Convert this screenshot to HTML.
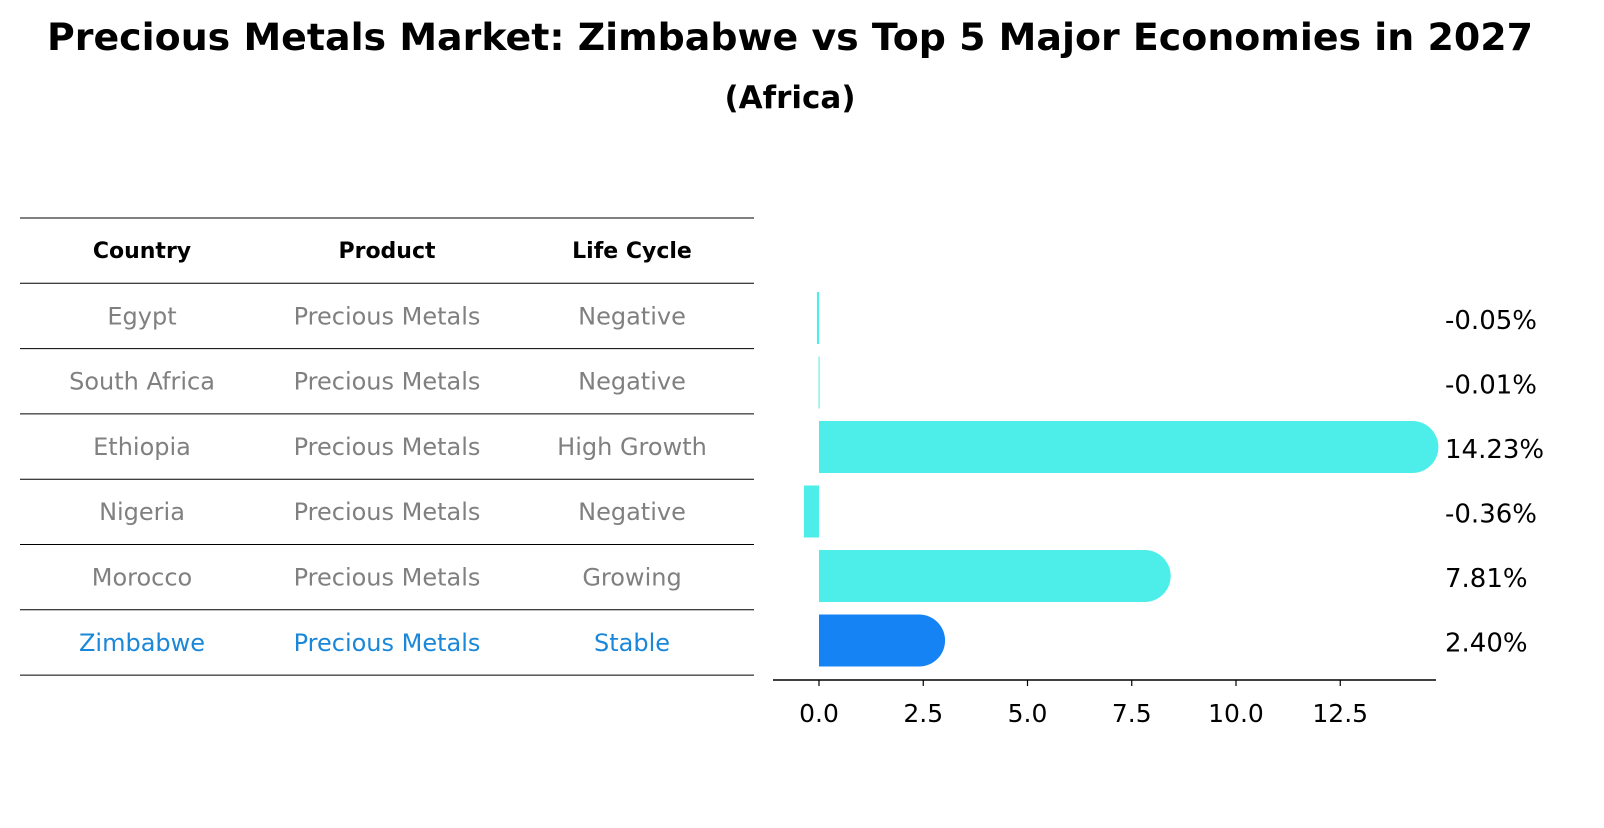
<!DOCTYPE html>
<html><head><meta charset="utf-8"><style>
body{margin:0;background:#fff;font-family:"Liberation Sans","DejaVu Sans",sans-serif;}
</style></head><body>
<svg width="1604" height="823" viewBox="0 0 1604 823" xmlns="http://www.w3.org/2000/svg" style="font-family:'DejaVu Sans','Liberation Sans',sans-serif">
<text x="790" y="50" text-anchor="middle" font-size="37" font-weight="bold" textLength="1486" lengthAdjust="spacingAndGlyphs">Precious Metals Market: Zimbabwe vs Top 5 Major Economies in 2027</text>
<text x="790" y="108" text-anchor="middle" font-size="31" font-weight="bold">(Africa)</text>
<g id="table"></g>
<g id="bars"></g>
</svg>
<script>
const countries=["Egypt","South Africa","Ethiopia","Nigeria","Morocco","Zimbabwe"];
const products=["Precious Metals","Precious Metals","Precious Metals","Precious Metals","Precious Metals","Precious Metals"];
const lifecycles=["Negative","Negative","High Growth","Negative","Growing","Stable"];
const values=[-0.05,-0.01,14.23,-0.36,7.81,2.40];
const ticks=[0,2.5,5,7.5,10,12.5];
const NS="http://www.w3.org/2000/svg";
function mk(t,a,p){const e=document.createElementNS(NS,t);for(const k in a)e.setAttribute(k,a[k]);p.appendChild(e);return e;}
const tb=document.getElementById('table');
const rowY=i=>218+65.3*i;
for(let i=0;i<=7;i++){const l=mk('line',{x1:20,x2:754,y1:rowY(i),y2:rowY(i),stroke:'#000','stroke-width':1},tb);

}
const colX=[142,387,632];
["Country","Product","Life Cycle"].forEach((h,j)=>{const t=mk('text',{x:colX[j],y:rowY(0)+40,'text-anchor':'middle','font-size':22,'font-weight':'bold'},tb);t.textContent=h;

});
countries.forEach((c,i)=>{const col=i===countries.length-1?'#1a87d9':'#808080';
[c,products[i],lifecycles[i]].forEach((v,j)=>{const t=mk('text',{x:colX[j],y:rowY(i+1)+41,'text-anchor':'middle','font-size':24,fill:col},tb);t.textContent=v;

});});
const bg=document.getElementById('bars');
const x0=819,ppu=41.7;const xs=v=>x0+v*ppu;
const yc=i=>318+64.5*i;const bh=52;
const ax=mk('line',{x1:773,x2:1436,y1:680,y2:680,stroke:'#000','stroke-width':1.5},bg);


ticks.forEach(t=>{const l=mk('line',{x1:xs(t),x2:xs(t),y1:680,y2:686,stroke:'#000','stroke-width':1.2},bg);


const tx=mk('text',{x:xs(t),y:722,'text-anchor':'middle','font-size':25},bg);tx.textContent=t.toFixed(1);

});
values.forEach((v,i)=>{const col=i===values.length-1?'#1683f5':'#4deeea';
const a=Math.min(xs(0),xs(v)),b=Math.max(xs(0),xs(v));
const r=mk('rect',{x:a,y:yc(i)-bh/2,width:Math.max(b-a,1),height:bh,fill:col},bg);


if(v>1){const c=mk('circle',{cx:xs(v),cy:yc(i),r:bh/2,fill:col},bg);

}
const t=mk('text',{x:1445,y:yc(i)+11,'font-size':26},bg);t.textContent=v.toFixed(2)+'%';

});
</script>
</body></html>
